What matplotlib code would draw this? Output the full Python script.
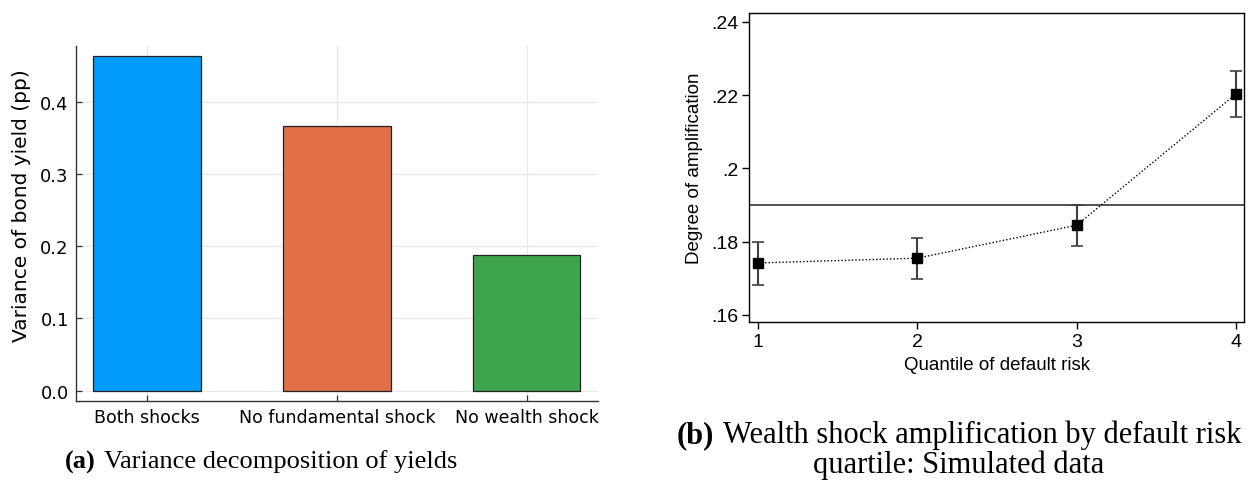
import numpy as np
import matplotlib.pyplot as plt
from matplotlib.offsetbox import TextArea, HPacker, AnnotationBbox

# panel (a): variance decomposition
scenarios = ["Both shocks", "No fundamental shock", "No wealth shock"]
variance = [0.4637, 0.3664, 0.1874]
bar_colors = ["#009AFA", "#E36F47", "#3EA44E"]
a_ticks = [0.0, 0.1, 0.2, 0.3, 0.4]

# panel (b): amplification by default-risk quartile
quartile = [1, 2, 3, 4]
amp = [0.1742, 0.1755, 0.1845, 0.2203]
amp_lo = [0.1683, 0.1699, 0.1788, 0.2140]
amp_hi = [0.1798, 0.1811, 0.1901, 0.2266]
amp_ref = 0.19
b_yticks = [0.16, 0.18, 0.20, 0.22, 0.24]
b_yticklabels = [".16", ".18", ".2", ".22", ".24"]

fig = plt.figure(figsize=(12.6, 4.81), dpi=100)

## left panel
ax1 = fig.add_axes([0.0601, 0.1649, 0.4145, 0.7374])
x = np.arange(len(scenarios))
ax1.bar(x, variance, width=0.565, color=bar_colors, edgecolor="#222222", linewidth=0.9, zorder=3)
ax1.set_xlim(-0.375, 2.375)
ax1.set_ylim(-0.0138, 0.477)
ax1.set_xticks(x)
ax1.set_xticklabels(scenarios, fontsize=12.5, family="DejaVu Sans")
ax1.set_yticks(a_ticks)
ax1.set_yticklabels([f"{t:.1f}" for t in a_ticks], fontsize=13, family="DejaVu Sans")
ax1.set_ylabel("Variance of bond yield (pp)", fontsize=14.5, family="DejaVu Sans")
ax1.yaxis.set_label_coords(-0.085, 0.553)
ax1.grid(True, color="#E8E8E8", linewidth=0.9, zorder=0)
for s in ["top", "right"]:
    ax1.spines[s].set_visible(False)
for s in ["left", "bottom"]:
    ax1.spines[s].set_color("#333333")
    ax1.spines[s].set_linewidth(1.0)
ax1.tick_params(direction="in", length=4, width=0.9, color="#333333", pad=5)

## right panel
ax2 = fig.add_axes([0.5947, 0.3278, 0.3928, 0.6431])
ax2.axhline(amp_ref, color="#333333", linewidth=1.2, zorder=1)
yerr = [np.array(amp) - np.array(amp_lo), np.array(amp_hi) - np.array(amp)]
ax2.errorbar(quartile, amp, yerr=yerr, fmt="none", ecolor="#404040",
             elinewidth=1.5, capsize=4, capthick=1.2, zorder=2)
ax2.plot(quartile, amp, linestyle=(0, (1, 1.5)), color="black", linewidth=1.0,
         marker="s", markersize=7, markerfacecolor="black", markeredgecolor="black", zorder=3)
ax2.set_xlim(0.945, 4.052)
ax2.set_ylim(0.158, 0.2424)
ax2.set_xticks(quartile)
ax2.set_xticklabels([str(q) for q in quartile], fontsize=14, family="Liberation Sans")
ax2.set_yticks(b_yticks)
ax2.set_yticklabels(b_yticklabels, fontsize=14, family="Liberation Sans")
ax2.set_xlabel("Quantile of default risk", fontsize=13.5, family="Liberation Sans", labelpad=4)
ax2.set_ylabel("Degree of amplification", fontsize=13.5, family="Liberation Sans", labelpad=6)
ax2.tick_params(direction="out", length=5, width=1.0, color="black", pad=3)
for s in ax2.spines.values():
    s.set_linewidth(1.0)
    s.set_color("black")


def caption(bold, rest, xy, size):
    parts = [TextArea(bold, textprops=dict(fontsize=size, family="Liberation Serif", fontweight="bold")),
             TextArea(rest, textprops=dict(fontsize=size, family="Liberation Serif"))]
    box = HPacker(children=parts, pad=0, sep=6, align="baseline")
    ab = AnnotationBbox(box, xy, xycoords="figure pixels", frameon=False, box_alignment=(0.5, 0.5))
    fig.add_artist(ab)


caption("(a)", "Variance decomposition of yields", (261, 481 - 462), 19)
caption("(b)", "Wealth shock amplification by default risk", (959, 481 - 435), 22)
fig.text(959 / 1260, 1 - 465 / 481, "quartile: Simulated data", fontsize=22,
         family="Liberation Serif", ha="center", va="center")

fig.savefig("out.png", dpi=100)
